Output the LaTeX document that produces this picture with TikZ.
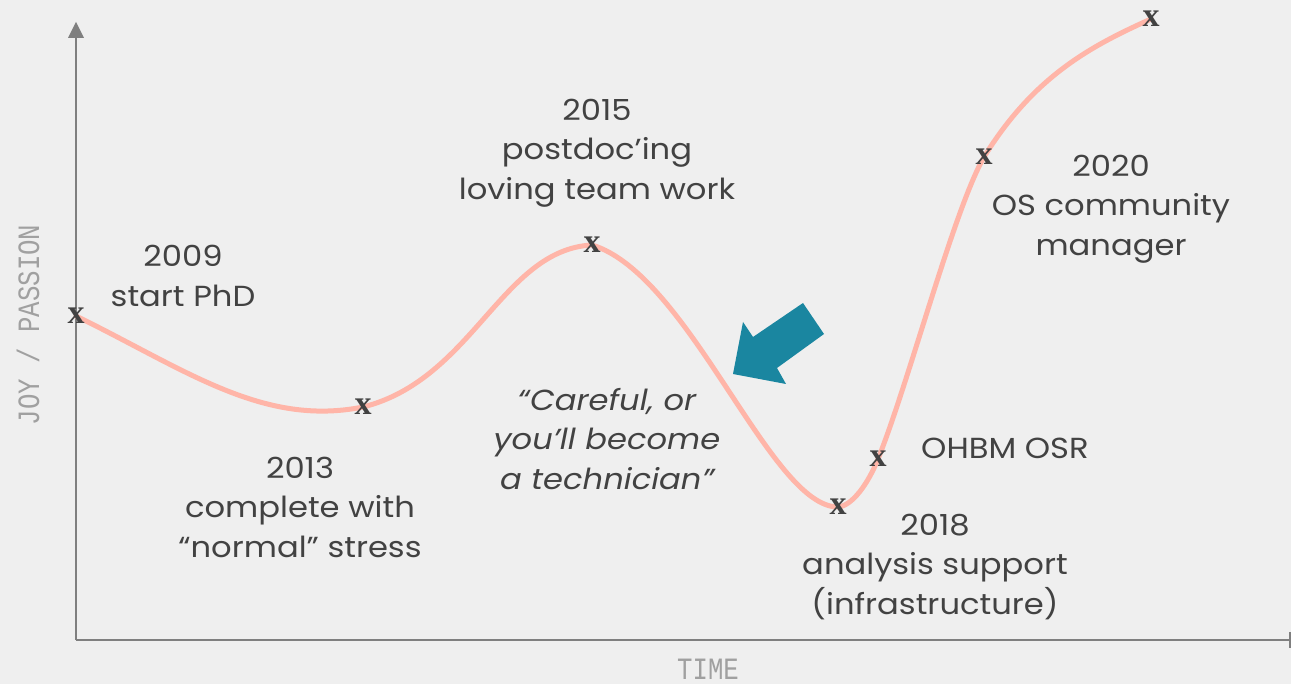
\documentclass[tikz,border=0pt]{standalone}
\usepackage{fontspec}
\setmainfont{Poppins}[FakeStretch=1.11]
\newfontfamily\axisfont{Liberation Mono}[FakeStretch=0.83]
\newfontfamily\markfont{Liberation Serif}
\definecolor{bg}{HTML}{EFEFEF}
\definecolor{axisgray}{HTML}{7F7F7F}
\definecolor{labelgray}{HTML}{A0A0A0}
\definecolor{textgray}{HTML}{424242}
\definecolor{curvecol}{HTML}{FFB5A8}
\definecolor{teal}{HTML}{1A86A0}
\begin{document}
\begin{tikzpicture}[x=1pt,y=-1pt,
  axisline/.style={draw=axisgray,line width=2.5pt},
  curveline/.style={draw=curvecol,line width=5pt,line cap=round},
  marker/.style={inner sep=0pt,text=textgray,font=\markfont\bfseries\fontsize{34}{34}\selectfont},
  label/.style={inner sep=0pt,text=textgray,align=center,font=\fontsize{29}{39.5}\selectfont},
  axislabel/.style={inner sep=0pt,text=labelgray,font=\axisfont\fontsize{31}{31}\selectfont}]
\useasboundingbox (0,0) rectangle (1291,684);
\fill[bg] (0,0) rectangle (1291,684);
% axes
\coordinate (origin) at (76,640);
\coordinate (ytip) at (76,22);
\coordinate (xend) at (1291,640);
\draw[axisline] (origin) -- (76,36);
\fill[axisgray] (ytip) -- (84,38) -- (68,38) -- cycle;
\draw[axisline] (origin) -- (xend);
\fill[axisgray] (1289,632) rectangle (1291,648);
\node[axislabel,rotate=90] (ylab) at (28,325) {JOY / PASSION};
\node[axislabel] (xlab) at (708,669) {TIME};
% points
\coordinate (p1) at (76,316);
\coordinate (p2) at (363,407);
\coordinate (p3) at (592,245);
\coordinate (p4) at (838,507);
\coordinate (p5) at (878,459);
\coordinate (p6) at (984,157);
\coordinate (p7) at (1151,19);
% curve
\draw[curveline] (p1)
  .. controls (186,370) and (263,427) .. (p2)
  .. controls (473,379.5) and (502,249.5) .. (p3)
  .. controls (690,275) and (770,507) .. (p4)
  .. controls (852,506) and (868,484) .. (p5)
  .. controls (908,385) and (954,209) .. (p6)
  .. controls (1034,76) and (1091,46) .. (p7);
% markers
\node[marker] (m1) at (p1) {x};
\node[marker] (m2) at (p2) {x};
\node[marker] (m3) at (p3) {x};
\node[marker] (m4) at (p4) {x};
\node[marker] (m5) at (p5) {x};
\node[marker] (m6) at (p6) {x};
\node[marker] (m7) at (p7) {x};
% labels
\node[label] (l2009) at (183,276) {2009\\start PhD};
\node[label] (l2015) at (597,153) {2015\\postdoc’ing\\loving team work};
\node[label] (l2013) at (300,507) {2013\\complete with\\“normal” stress};
\node[label,font=\itshape\fontsize{29}{39.5}\selectfont] (lquote) at (607,439) {“Careful, or\\you’ll become\\a technician”};
\node[label] (l2018) at (935,567) {2018\\analysis support\\(infrastructure)};
\node[label,anchor=west] (lohbm) at (921,448) {OHBM OSR};
\node[label] (l2020) at (1111,209) {2020\\OS community\\manager};
% big arrow
\fill[teal] (733,374) -- (743,322) -- (753,337) -- (803,303) -- (824,334) -- (777,368) -- (786,384) -- cycle;
\end{tikzpicture}
\end{document}
